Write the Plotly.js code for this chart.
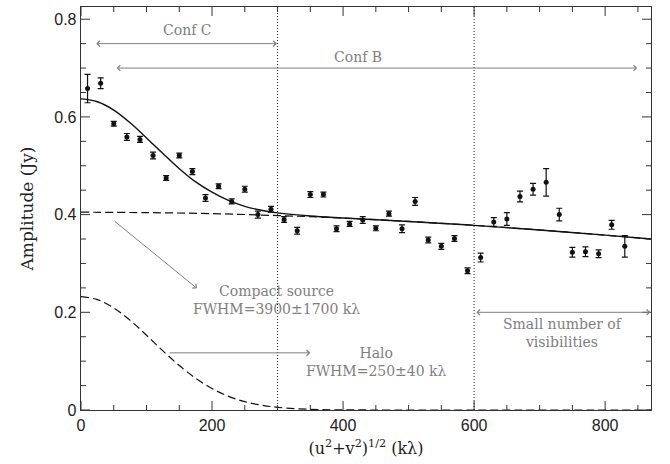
<!DOCTYPE html>
<html>
<head>
<meta charset="utf-8">
<script src="https://cdn.plot.ly/plotly-3.0.1.min.js"></script>
<style>html,body{margin:0;padding:0;background:#fff;}#plot{width:670px;height:464px;}</style>
</head>
<body>
<div id="plot"></div>
<script>
// Observed visibilities
const uvDist = [10,30,50,70,90,110,130,150,170,190,210,230,250,270,290,310,330,350,370,390,410,430,450,470,490,510,530,550,570,590,610,630,650,670,690,710,730,750,770,790,810,830];
const amplitude = [0.658,0.669,0.586,0.559,0.554,0.521,0.475,0.521,0.488,0.434,0.458,0.427,0.452,0.400,0.411,0.390,0.367,0.441,0.441,0.371,0.381,0.389,0.372,0.402,0.371,0.427,0.348,0.335,0.351,0.285,0.312,0.385,0.391,0.437,0.452,0.466,0.400,0.323,0.324,0.320,0.379,0.335];
const ampError = [0.029,0.011,0.005,0.007,0.006,0.007,0.005,0.005,0.006,0.007,0.005,0.005,0.006,0.007,0.006,0.006,0.007,0.006,0.005,0.006,0.005,0.007,0.005,0.005,0.008,0.008,0.006,0.006,0.006,0.006,0.009,0.009,0.013,0.011,0.012,0.028,0.013,0.010,0.010,0.008,0.009,0.022];

// Model curves
const totalX = [0,25,50,75,100,125,150,175,200,225,250,275,300,350,400,500,600,700,800,870];
const totalY = [0.637,0.631,0.614,0.588,0.557,0.525,0.494,0.467,0.446,0.429,0.417,0.409,0.4035,0.397,0.393,0.386,0.378,0.3685,0.358,0.350];
const compactX = [0,100,200,300,400,500,600,700,800,870];
const compactY = [0.405,0.404,0.402,0.398,0.393,0.386,0.378,0.3685,0.358,0.350];
const haloX = [0,25,50,75,100,125,150,175,200,225,250,275,300,350,400,500,870];
const haloY = [0.232,0.226,0.209,0.1835,0.153,0.121,0.091,0.065,0.044,0.028,0.017,0.010,0.0055,0.0014,0.0003,0,0];

// Axis ticks
const xTicks = [0, 200, 400, 600, 800];
const xMinorTicks = [50, 100, 150, 250, 300, 350, 450, 500, 550, 650, 700, 750, 850];
const yTicks = [0, 0.2, 0.4, 0.6, 0.8];
const yTickText = ['0', '0.2', '0.4', '0.6', '0.8'];
const yMinorTicks = [0.05, 0.1, 0.15, 0.25, 0.3, 0.35, 0.45, 0.5, 0.55, 0.65, 0.7, 0.75];

const gray = '#7f7f7f';
const serif = 'DejaVu Serif, serif';
const ink = '#222';
const frame = '#333';

const traces = [
  {x: compactX, y: compactY, mode: 'lines', line: {color: '#111', width: 1.2, dash: '8px,4px', shape: 'spline'}, hoverinfo: 'skip'},
  {x: haloX, y: haloY, mode: 'lines', line: {color: '#111', width: 1.2, dash: '8px,4px', shape: 'spline'}, hoverinfo: 'skip'},
  {x: totalX, y: totalY, mode: 'lines', line: {color: '#111', width: 1.4, shape: 'spline'}, hoverinfo: 'skip'},
  {x: uvDist, y: amplitude, mode: 'markers', marker: {color: '#111', size: 5},
   error_y: {type: 'data', array: ampError, visible: true, color: '#111', thickness: 1.2, width: 3}}
];

function arrow(x0, y0, x1, y1, both) {
  return {x: x1, y: y1, ax: x0, ay: y0, xref: 'x', yref: 'y', axref: 'x', ayref: 'y',
    text: '', showarrow: true, arrowhead: 4, startarrowhead: 4, arrowsize: 1.1, startarrowsize: 1.1,
    arrowwidth: 1, arrowcolor: gray, arrowside: both ? 'end+start' : 'end'};
}
function label(x, y, txt) {
  return {x: x, y: y, xref: 'x', yref: 'y', text: txt, showarrow: false, align: 'center',
    font: {family: serif, size: 14, color: gray}};
}

const annotations = [
  arrow(21, 0.75, 299, 0.75, true),
  label(163, 0.778, 'Conf C'),
  arrow(52, 0.70, 849, 0.70, true),
  label(423, 0.722, 'Conf B'),
  arrow(49, 0.389, 177, 0.249, false),
  label(298, 0.2245, 'Compact source<br>FWHM=3900±1700 kλ'),
  arrow(133, 0.117, 350, 0.117, false),
  label(451, 0.098, 'Halo<br>FWHM=250±40 kλ'),
  arrow(601, 0.2, 869, 0.2, true),
  label(736, 0.158, 'Small number of<br>visibilities')
];

// Tick marks on all four sides, placed through the axes (data value + pixel length)
const tickShapes = [];
function xTick(v, len) {
  tickShapes.push({type: 'line', xref: 'x', yref: 'paper', ysizemode: 'pixel', yanchor: 0, x0: v, x1: v, y0: 0, y1: len, line: {color: frame, width: 1}});
  tickShapes.push({type: 'line', xref: 'x', yref: 'paper', ysizemode: 'pixel', yanchor: 1, x0: v, x1: v, y0: 0, y1: -len, line: {color: frame, width: 1}});
}
function yTick(v, len) {
  tickShapes.push({type: 'line', xref: 'paper', yref: 'y', xsizemode: 'pixel', xanchor: 0, x0: 0, x1: len, y0: v, y1: v, line: {color: frame, width: 1}});
  tickShapes.push({type: 'line', xref: 'paper', yref: 'y', xsizemode: 'pixel', xanchor: 1, x0: 0, x1: -len, y0: v, y1: v, line: {color: frame, width: 1}});
}
xTicks.forEach(v => xTick(v, 9));
xMinorTicks.forEach(v => xTick(v, 5));
yTicks.forEach(v => yTick(v, 9));
yMinorTicks.forEach(v => yTick(v, 5));

const tickFont = {family: 'Liberation Sans, Arial, sans-serif', size: 16, color: ink};

const layout = {
  width: 670, height: 464,
  margin: {l: 81, r: 19, t: 7, b: 54},
  paper_bgcolor: '#fff', plot_bgcolor: '#fff',
  showlegend: false,
  xaxis: {
    range: [0, 870], tickvals: xTicks, ticks: '',
    showline: true, linecolor: frame, linewidth: 1.3, mirror: true, showgrid: false, zeroline: false,
    tickfont: tickFont,
    title: {text: '(u<sup>2</sup>+v<sup>2</sup>)<sup>1/2</sup> (kλ)', font: {family: serif, size: 16, color: ink}, standoff: 10}
  },
  yaxis: {
    range: [0, 0.825], tickvals: yTicks, ticktext: yTickText, ticks: '',
    showline: true, linecolor: frame, linewidth: 1.3, mirror: true, showgrid: false, zeroline: false,
    tickfont: tickFont,
    title: {text: 'Amplitude (Jy)', font: {family: serif, size: 17, color: ink}, standoff: 16}
  },
  shapes: [
    {type: 'line', xref: 'x', yref: 'paper', x0: 300, x1: 300, y0: 0, y1: 1, line: {color: '#222', width: 1, dash: '1px,2px'}},
    {type: 'line', xref: 'x', yref: 'paper', x0: 600, x1: 600, y0: 0, y1: 1, line: {color: '#222', width: 1, dash: '1px,2px'}}
  ].concat(tickShapes),
  annotations: annotations
};

Plotly.newPlot('plot', traces, layout, {staticPlot: true});
</script>
</body>
</html>
